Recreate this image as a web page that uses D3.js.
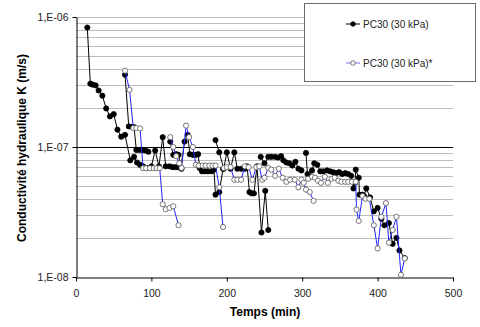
<!DOCTYPE html>
<html>
<head>
<meta charset="utf-8">
<script src="https://cdn.jsdelivr.net/npm/d3@7"></script>
<style>
    body { margin: 0; background: #fff; }
    svg { display: block; font-family: "Liberation Sans", Arial, sans-serif; }
</style>
</head>
<body>
<div id="chart"></div>
<script>
// series 1 : PC30 (30 kPa) - null = break in the line
var timePC30 = [15, 19, 22, 26, 30, 35, 40, 45, 50, 55, 60, 65, 72, 77, 81, 85, 89, 94, 100, 105, 110, 115, 119, 124, 128, 132, 136, 140, null,
    65, 70, 74, 77, 80, 84, 88, 92, 96, null,
    125, 129, 133, 136, 139, 144, 148, 151, 155, 159, 162, 164, 167, 171, 175, 180, 183, 185, 190, 195, null,
    185, 190, 196, 200, 205, 210, 214, 219, 224, 227, 230, 233, 236, 240, 246, 251, 255, null,
    245, 250, 255, 259, 264, 268, 272, 275, 279, 283, 287, 291, 295, 299, null,
    305, 307, 310, 313, 316, 320, 324, 328, 333, 337, 341, 345, 349, 353, 357, 361, 365, 368, 370, 371, 375, 376, 380, 382, 385, 390, 395, 400, 405, 409, 415, 420, 425, 429, 436];
var kPC30 = [8.3e-7, 3.07e-7, 3.02e-7, 2.98e-7, 2.72e-7, 2.48e-7, 1.98e-7, 1.72e-7, 1.79e-7, 1.36e-7, 1.2e-7, 1.24e-7, 7.9e-8, 8.4e-8, 7.6e-8, 7.3e-8, 7.1e-8, 6.9e-8, 7.1e-8, 9.4e-8, 7.1e-8, 1.19e-7, 7.1e-8, 7.1e-8, 7.0e-8, 7.0e-8, 7.0e-8, 6.8e-8, null,
    3.6e-7, 1.44e-7, 1.43e-7, 1.42e-7, 9.5e-8, 9.5e-8, 9.5e-8, 9.4e-8, 9.2e-8, null,
    1.1e-7, 8.7e-8, 8.8e-8, 8.7e-8, 6.9e-8, 1.1e-7, 1.24e-7, 8.8e-8, 8.7e-8, 8.7e-8, 8.8e-8, 6.9e-8, 6.5e-8, 6.5e-8, 6.5e-8, 6.5e-8, 6.7e-8, 4.3e-8, 4.5e-8, 6.8e-8, null,
    1.13e-7, 9.1e-8, 6.8e-8, 9.1e-8, 6.8e-8, 9.1e-8, 6.8e-8, 6.8e-8, 6.8e-8, 7.1e-8, 4.5e-8, 4.4e-8, 4.4e-8, 7.1e-8, 2.2e-8, 4.6e-8, 2.3e-8, null,
    8.4e-8, 7.5e-8, 8.4e-8, 8.4e-8, 8.4e-8, 8.3e-8, 8.5e-8, 7.9e-8, 7.6e-8, 7.5e-8, 7.2e-8, 7.7e-8, 6.8e-8, 6.6e-8, null,
    9.0e-8, 6.2e-8, 5.9e-8, 6.6e-8, 7.5e-8, 7.3e-8, 6.5e-8, 6.5e-8, 6.6e-8, 6.5e-8, 6.4e-8, 6.3e-8, 6.4e-8, 6.2e-8, 6.3e-8, 6.2e-8, 6.0e-8, 4.8e-8, 5.3e-8, 6.7e-8, 5.8e-8, 4.3e-8, 4.3e-8, 4.2e-8, 4.8e-8, 4.1e-8, 3.2e-8, 3.4e-8, 2.8e-8, 2.5e-8, 2.6e-8, 1.8e-8, 2.0e-8, 1.6e-8, 1.4e-8];

// series 2 : PC30 (30 kPa)*
var timePC30b = [65, 71, 76, 80, 85, 89, 93, 98, 103, 107, 111, 115, 119, 124, 129, 136, null,
    125, 129, 133, 137, 140, 146, 150, 155, 159, 163, 168, 172, 177, 181, 185, 190, 195, null,
    196, 200, 205, 210, 214, 219, 224, 229, 234, 239, 243, 247, 250, 255, 259, 264, 269, 274, 279, 284, 290, 295, 299, 302, 305, 310, 315, null,
    308, 313, 317, 321, 325, 330, 334, 339, 343, 348, 352, 357, 361, 366, 371, 372, 375, 380, 384, 389, 395, 400, 405, 411, 415, 420, 425, 431, 436];
var kPC30b = [3.86e-7, 2.75e-7, 1.4e-7, 1.4e-7, 1.39e-7, 6.87e-8, 6.87e-8, 6.87e-8, 6.87e-8, 6.87e-8, 6.87e-8, 3.63e-8, 3.32e-8, 3.4e-8, 3.5e-8, 2.5e-8, null,
    1.19e-7, 1.0e-7, 8.5e-8, 7.5e-8, 6.9e-8, 1.46e-7, 1.19e-7, 1.0e-7, 7.3e-8, 7.2e-8, 7.2e-8, 7.2e-8, 7.2e-8, 7.2e-8, 7.2e-8, 4.9e-8, 2.42e-8, null,
    6.9e-8, 7.0e-8, 7.0e-8, 5.6e-8, 5.6e-8, 5.6e-8, 7.1e-8, 7.0e-8, 5.6e-8, 7.0e-8, 7.1e-8, 5.6e-8, 5.8e-8, 6.9e-8, 6.7e-8, 6.0e-8, 6.8e-8, 5.8e-8, 5.4e-8, 5.6e-8, 5.6e-8, 4.9e-8, 5.6e-8, 5.3e-8, 4.7e-8, 4.5e-8, 3.85e-8, null,
    5.7e-8, 5.9e-8, 5.8e-8, 5.5e-8, 5.3e-8, 5.9e-8, 5.3e-8, 5.7e-8, 5.8e-8, 5.5e-8, 5.4e-8, 5.4e-8, 5.4e-8, 5.4e-8, 5.4e-8, 3.3e-8, 2.7e-8, 4.2e-8, 4.0e-8, 4.0e-8, 2.5e-8, 1.66e-8, 2.9e-8, 3.7e-8, 1.84e-8, 2.3e-8, 2.9e-8, 1.04e-8, 1.39e-8];

var xTicks = [0, 100, 200, 300, 400, 500];
var yTicks = [1e-8, 1e-7, 1e-6];
var seriesNames = ["PC30 (30 kPa)", "PC30 (30 kPa)*"];

var width = 480, height = 327;
var svg = d3.select("#chart").append("svg")
    .attr("width", width)
    .attr("height", height);

var x = d3.scaleLinear().domain([0, 500]).range([76, 453]);
var y = d3.scaleLog().domain([1e-8, 1e-6]).range([277, 17]);

// horizontal grid on every minor value, 1E-07 darker
svg.append("g").selectAll("line")
    .data(y.ticks().filter(function(d) { return d > 1.5e-8; }))
    .enter()
    .append("line")
    .attr("x1", x(0))
    .attr("x2", x(500))
    .attr("y1", function(d) { return Math.round(y(d)) + 0.5; })
    .attr("y2", function(d) { return Math.round(y(d)) + 0.5; })
    .attr("stroke", function(d) { return Math.abs(d - 1e-7) < 1e-12 ? "#000" : "#bdbdbd"; })
    .attr("stroke-width", 1);

function fmtK(d) {
    var e = Math.round(-Math.log10(d));
    return "1,E-" + (e < 10 ? "0" + e : e);
}

var yAxis = svg.append("g")
    .attr("transform", "translate(" + (x(0) + 0.5) + ",0)")
    .call(d3.axisLeft(y).tickValues(yTicks).tickFormat(fmtK).tickSize(4).tickSizeOuter(0).tickPadding(4));
var xAxis = svg.append("g")
    .attr("transform", "translate(0," + (Math.round(y(1e-8)) + 0.5) + ")")
    .call(d3.axisBottom(x).tickValues(xTicks).tickSize(4).tickSizeOuter(0).tickPadding(8));

[yAxis, xAxis].forEach(function(a) {
    a.selectAll("text").attr("font-size", 10.5).attr("fill", "#222")
        .attr("font-family", "Liberation Sans, Arial, sans-serif");
    a.selectAll("path,line").attr("stroke", "#000");
});

// titles
svg.append("text")
    .attr("x", 265).attr("y", 316)
    .attr("text-anchor", "middle")
    .attr("font-size", 12).attr("font-weight", "bold")
    .text("Temps (min)");
svg.append("text")
    .attr("transform", "translate(26,148) rotate(-90)")
    .attr("text-anchor", "middle")
    .attr("font-size", 12).attr("font-weight", "bold")
    .text("Conductivité hydraulique K (m/s)");

function toPoints(ts, ks) {
    return ts.map(function(t, i) { return {t: t, k: ks[i]}; });
}

var line = d3.line()
    .defined(function(d) { return d.t != null && d.k != null; })
    .x(function(d) { return x(d.t); })
    .y(function(d) { return y(d.k); });

var series = [
    {pts: toPoints(timePC30, kPC30), line: "#000", fill: "#000", stroke: "#000"},
    {pts: toPoints(timePC30b, kPC30b), line: "#2424ff", fill: "#fff", stroke: "#555"}
];

series.forEach(function(s) {
    svg.append("path")
        .datum(s.pts)
        .attr("d", line)
        .attr("fill", "none")
        .attr("stroke", s.line)
        .attr("stroke-width", 1);
    svg.append("g").selectAll("circle")
        .data(s.pts.filter(line.defined()))
        .enter()
        .append("circle")
        .attr("cx", function(d) { return x(d.t); })
        .attr("cy", function(d) { return y(d.k); })
        .attr("r", 2.6)
        .attr("fill", s.fill)
        .attr("stroke", s.stroke)
        .attr("stroke-width", 0.8);
});

// legend
var leg = svg.append("g");
leg.append("rect")
    .attr("x", 304.5).attr("y", 3.5)
    .attr("width", 171).attr("height", 78)
    .attr("fill", "#fff")
    .attr("stroke", "#6a6a6a");
series.forEach(function(s, i) {
    var ly = i == 0 ? 24 : 63;
    leg.append("line")
        .attr("x1", 346).attr("x2", 360)
        .attr("y1", ly).attr("y2", ly)
        .attr("stroke", s.line == "#000" ? "#000" : "#7070ff");
    leg.append("circle")
        .attr("cx", 353).attr("cy", ly).attr("r", 2.3)
        .attr("fill", s.fill).attr("stroke", s.stroke).attr("stroke-width", 0.8);
    leg.append("text")
        .attr("x", 363).attr("y", ly + 3.5)
        .attr("font-size", 10).attr("fill", "#222")
        .text(seriesNames[i]);
});
</script>
</body>
</html>
